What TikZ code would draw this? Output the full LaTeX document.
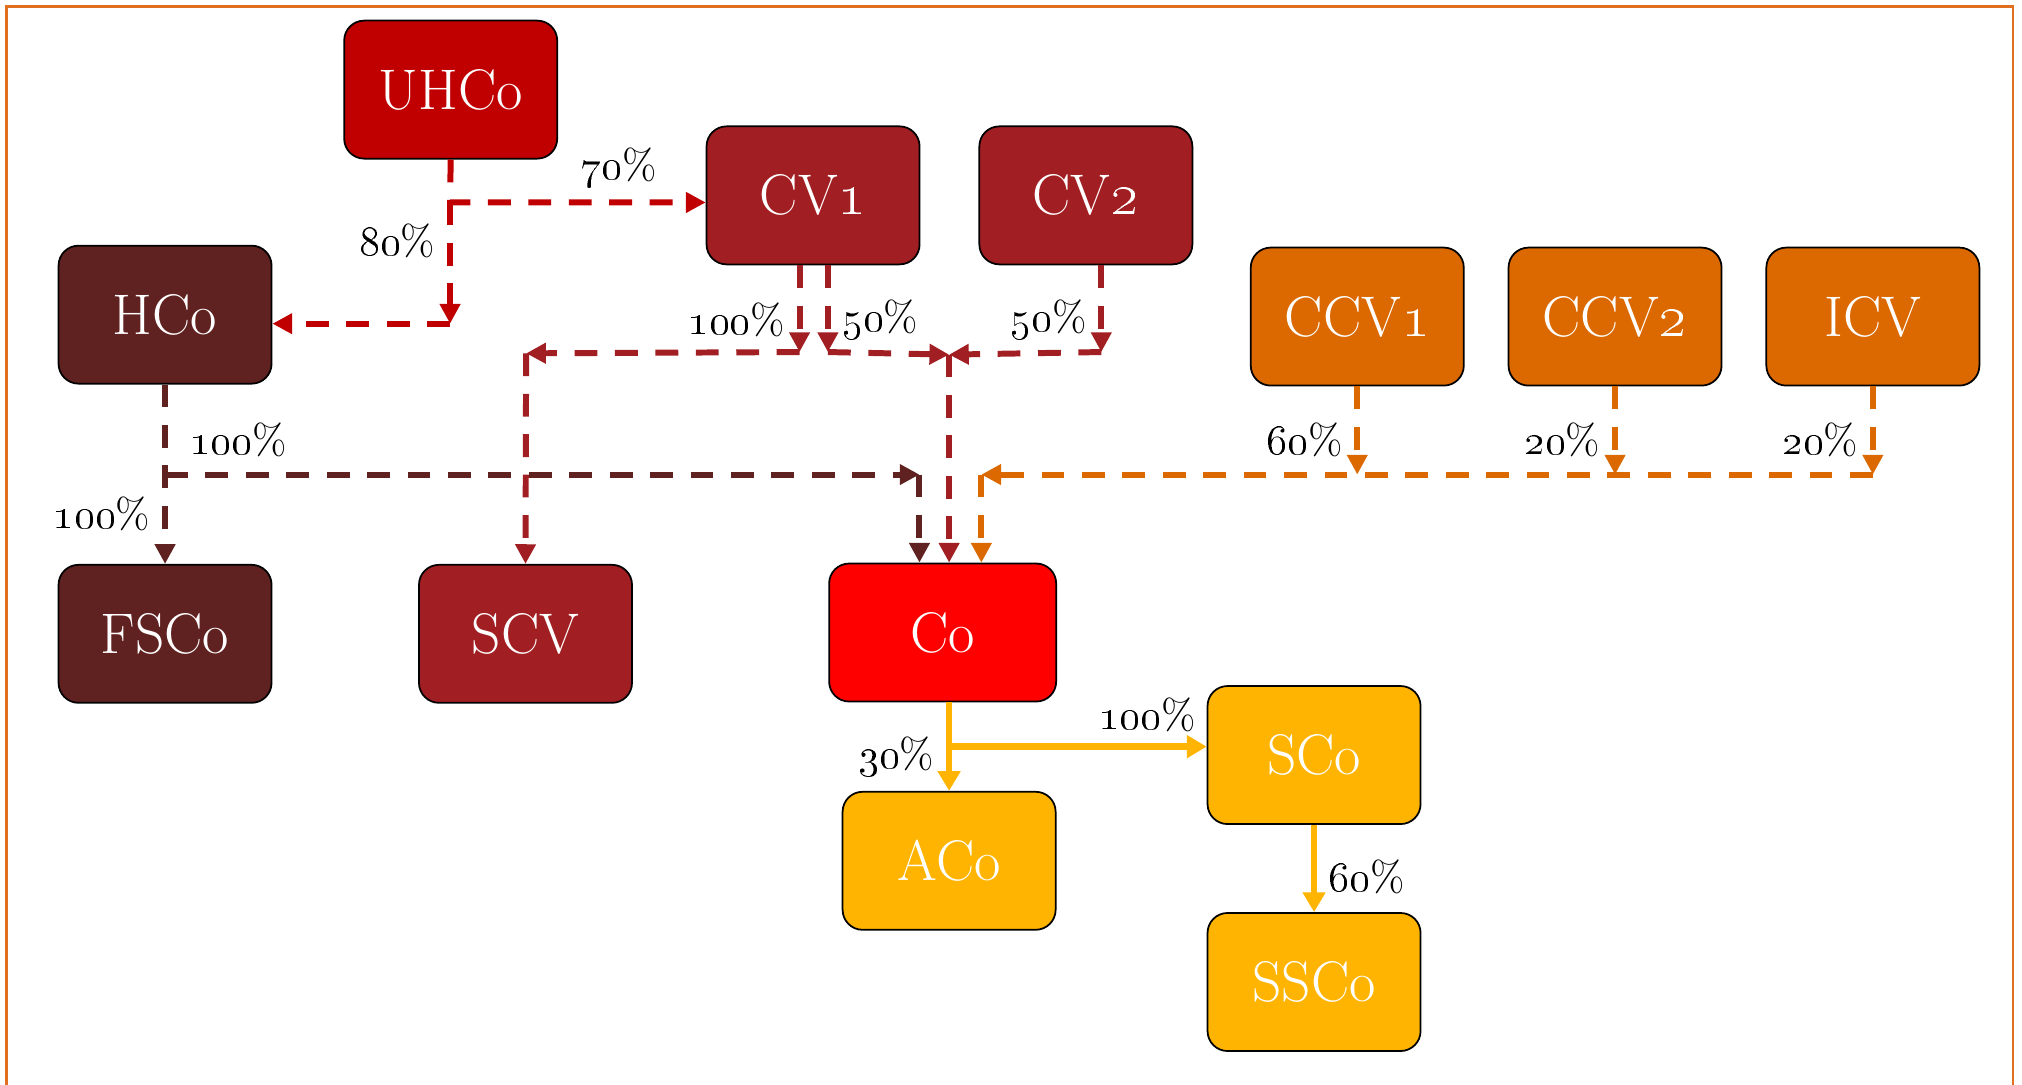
\documentclass[tikz,border=0pt]{standalone}
\usetikzlibrary{arrows.meta,positioning,calc}
\definecolor{uhcored}{RGB}{192,0,0}
\definecolor{cvred}{RGB}{161,31,34}
\definecolor{hcobrown}{RGB}{96,33,33}
\definecolor{ccvorange}{RGB}{219,105,0}
\definecolor{coyellow}{RGB}{254,180,0}
\definecolor{framecol}{RGB}{224,112,32}
\begin{document}
\begin{tikzpicture}[x=0.012895cm,y=-0.012895cm,
  box/.style={draw=black,line width=0.5pt,rounded corners=0.2cm,minimum width=2.13cm,minimum height=1.38cm,inner sep=2pt,text=white,font=\fontsize{16.3}{19}\selectfont},
  flow/.style={line width=1.7pt,dash pattern=on 6.5pt off 5pt,-{Triangle[length=5.6pt,width=5.6pt]}},
  solidflow/.style={line width=1.8pt,-{Triangle[length=5.6pt,width=6.2pt]}},
  pct/.style={text=black,font=\fontsize{12}{14}\selectfont}]
\useasboundingbox (0,0) rectangle (1568,841);
\draw[framecol,line width=0.8pt] (5,900) -- (5,5) -- (1561,5) -- (1561,900);

\node[box,fill=uhcored] (uhco) at (349.5,69.5) {UHCo};
\node[box,fill=cvred] (cv1) at (630.5,151.5) {CV\oldstylenums{1}};
\node[box,fill=cvred,right=0.58cm of cv1] (cv2) {CV\oldstylenums{2}};
\node[box,fill=hcobrown] (hco) at (128,244) {HCo};
\node[box,fill=ccvorange] (ccv1) at (1052.5,245.5) {CCV\oldstylenums{1}};
\node[box,fill=ccvorange,right=0.43cm of ccv1] (ccv2) {CCV\oldstylenums{2}};
\node[box,fill=ccvorange,right=0.43cm of ccv2] (icv) {ICV};
\node[box,fill=hcobrown] (fsco) at (128,491.5) {FSCo};
\node[box,fill=cvred] (scv) at (407.5,491.5) {SCV};
\node[box,fill=red,minimum width=2.27cm] (co) at (731,490.5) {Co};
\node[box,fill=coyellow] (sco) at (1019,585.5) {SCo};
\node[box,fill=coyellow] (aco) at (736,667.5) {ACo};
\node[box,fill=coyellow] (ssco) at (1019,761.5) {SSCo};

\coordinate (uhcoknee) at (349,157);
\coordinate (uhcodrop) at (349,251);
\coordinate (cvleft) at (620,273);
\coordinate (cvright) at (642,273);
\coordinate (cvtwodrop) at (854,273);
\coordinate (cvmerge) at (736,275);
\coordinate (scvknee) at (408,274);
\coordinate (hcosplit) at (128,368);
\coordinate (hcoknee) at (713,368);
\coordinate (ccvknee) at (761,368);
\coordinate (cosplit) at (736,579);

\draw[flow,uhcored] (uhco.south) -- (uhcoknee) -- node[pct,above,pos=0.66]{\oldstylenums{70}\%} (cv1.west |- uhcoknee);
\draw[flow,uhcored] (uhcoknee) -- node[pct,left,pos=0.32]{\oldstylenums{80}\%} (uhcodrop);
\draw[flow,uhcored] (uhcodrop) -- (hco.east |- uhcodrop);

\draw[flow,cvred] (cv1.south -| cvleft) -- node[pct,left,pos=0.63]{\oldstylenums{100}\%} (cvleft);
\draw[flow,cvred] (cvleft) -- (scvknee);
\draw[flow,cvred] (scvknee) -- (scv.north);
\draw[flow,cvred] (cv1.south -| cvright) -- node[pct,right,pos=0.63]{\oldstylenums{50}\%} (cvright);
\draw[flow,cvred] (cvright) -- (cvmerge);
\draw[flow,cvred] (cv2.south -| cvtwodrop) -- node[pct,left,pos=0.63]{\oldstylenums{50}\%} (cvtwodrop);
\draw[flow,cvred] (cvtwodrop) -- (cvmerge);
\draw[flow,cvred] (cvmerge) -- (co.north -| cvmerge);

\draw[flow,hcobrown] (hco.south) -- node[pct,right=3pt,pos=0.62]{\oldstylenums{100}\%} (hcosplit) -- node[pct,left,pos=0.44]{\oldstylenums{100}\%} (fsco.north);
\draw[flow,hcobrown] (hcosplit) -- (hcoknee);
\draw[flow,hcobrown] (hcoknee) -- (co.north -| hcoknee);

\draw[flow,ccvorange] (ccv1.south) -- node[pct,left,pos=0.61]{\oldstylenums{60}\%} (ccv1.south |- ccvknee);
\draw[flow,ccvorange] (ccv2.south) -- node[pct,left,pos=0.61]{\oldstylenums{20}\%} (ccv2.south |- ccvknee);
\draw[flow,ccvorange] (icv.south) -- node[pct,left,pos=0.61]{\oldstylenums{20}\%} (icv.south |- ccvknee);
\draw[flow,ccvorange] (icv.south |- ccvknee) -- (ccvknee);
\draw[flow,ccvorange] (ccvknee) -- (co.north -| ccvknee);

\draw[solidflow,coyellow] (co.south -| aco.north) -- node[pct,left,pos=0.61]{\oldstylenums{30}\%} (aco.north);
\draw[solidflow,coyellow] (cosplit) -- node[pct,above,pos=0.77]{\oldstylenums{100}\%} (sco.west |- cosplit);
\draw[solidflow,coyellow] (sco.south) -- node[pct,right,pos=0.59]{\oldstylenums{60}\%} (ssco.north);
\end{tikzpicture}
\end{document}
